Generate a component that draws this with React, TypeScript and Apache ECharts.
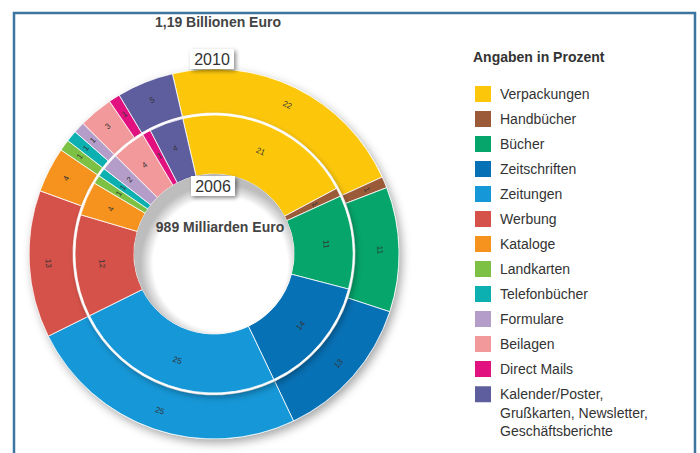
import React, { useEffect, useRef } from "react";
import * as echarts from "echarts";

const categories = [
  "Verpackungen",
  "Handbücher",
  "Bücher",
  "Zeitschriften",
  "Zeitungen",
  "Werbung",
  "Kataloge",
  "Landkarten",
  "Telefonbücher",
  "Formulare",
  "Beilagen",
  "Direct Mails",
  "Kalender/Poster,\nGrußkarten, Newsletter,\nGeschäftsberichte",
];
const values2010 = [22, 1, 11, 13, 25, 13, 4, 1, 1, 1, 3, 1, 5];
const values2006 = [21, 1, 11, 14, 25, 12, 4, 1, 1, 2, 4, 1, 4];
const colors = [
  "#FCC70B",
  "#9B5B38",
  "#05A56B",
  "#0771B5",
  "#1697D7",
  "#D5524A",
  "#F6931F",
  "#7CC143",
  "#0CB0B0",
  "#B49DC9",
  "#F29A9B",
  "#E1127F",
  "#5E5D9E",
];
const title2010 = "1,19 Billionen Euro";
const title2006 = "989 Milliarden Euro";
const legendTitle = "Angaben in Prozent";

const FONT = "'Liberation Sans', Arial, sans-serif";
const CX = 214;
const CY = 254;

export default function App() {
  const ref = useRef<HTMLDivElement>(null);
  useEffect(() => {
    if (!ref.current) return;
    const chart = echarts.init(ref.current, null, { renderer: "svg" });
    const mk = (vals: number[]) =>
      categories.map((name, i) => ({
        name,
        value: vals[i],
        itemStyle: { color: colors[i] },
      }));
    const labelCfg = {
      show: true,
      position: "inside",
      rotate: "tangential",
      fontSize: 8,
      color: "#333",
      fontFamily: FONT,
      formatter: "{c}",
    };
    const option: any = {
      animation: false,
      color: colors,
      textStyle: { fontFamily: FONT },
      legend: [
        {
          orient: "vertical",
          left: 468,
          top: 79,
          itemWidth: 18,
          itemHeight: 18,
          itemGap: 5,
          icon: "rect",
          selectedMode: false,
          data: categories.slice(0, 12),
          textStyle: {
            fontSize: 14,
            lineHeight: 18,
            color: "#333",
            fontFamily: FONT,
            padding: [0, 0, 0, 3],
          },
        },
        {
          orient: "vertical",
          left: 468,
          top: 343,
          itemWidth: 18,
          itemHeight: 18,
          icon: "rect",
          selectedMode: false,
          data: categories.slice(12),
          formatter: (name: string) => "\n\n" + name,
          textStyle: {
            fontSize: 14,
            color: "#333",
            fontFamily: FONT,
            lineHeight: 18.5,
            padding: [0, 0, 0, 3],
          },
        },
      ],
      series: [
        {
          type: "pie",
          name: "2010",
          center: [CX, CY],
          radius: [141, 185],
          startAngle: 103,
          z: 2,
          avoidLabelOverlap: false,
          emphasis: { disabled: true },
          itemStyle: { borderColor: "#fff", borderWidth: 0.8 },
          label: labelCfg,
          labelLine: { show: false },
          data: mk(values2010),
        },
        {
          type: "pie",
          name: "2006",
          center: [CX, CY],
          radius: [80, 139],
          startAngle: 103,
          z: 4,
          avoidLabelOverlap: false,
          emphasis: { disabled: true },
          itemStyle: { borderColor: "#fff", borderWidth: 0.8 },
          label: labelCfg,
          labelLine: { show: false },
          data: mk(values2006),
        },
      ],
      graphic: [
        {
          type: "rect",
          z: 0,
          silent: true,
          shape: { x: 14, y: 13, width: 681, height: 460 },
          style: { fill: "none", stroke: "#3B75A0", lineWidth: 2.5 },
        },
        {
          type: "circle",
          z: 1,
          silent: true,
          shape: { cx: CX, cy: CY, r: 185 },
          style: {
            fill: "#fff",
            shadowBlur: 10,
            shadowOffsetX: 3,
            shadowOffsetY: 4,
            shadowColor: "rgba(0,0,0,0.35)",
          },
        },
        {
          type: "circle",
          z: 3,
          silent: true,
          shape: { cx: CX, cy: CY, r: 140.5 },
          style: {
            fill: "#fff",
            shadowBlur: 6,
            shadowOffsetX: 2,
            shadowOffsetY: 3,
            shadowColor: "rgba(0,0,0,0.3)",
          },
        },
        {
          type: "circle",
          z: 5,
          silent: true,
          shape: { cx: CX, cy: CY, r: 80 },
          style: {
            fill: new echarts.graphic.RadialGradient(0.54, 0.56, 0.5, [
              { offset: 0, color: "#ffffff" },
              { offset: 0.84, color: "#ffffff" },
              { offset: 1, color: "#bdbdbd" },
            ]),
          },
        },
        {
          type: "rect",
          z: 6,
          silent: true,
          shape: { x: 190, y: 49, width: 44, height: 20 },
          style: {
            fill: "#fff",
            shadowBlur: 4,
            shadowOffsetX: 2,
            shadowOffsetY: 2,
            shadowColor: "rgba(0,0,0,0.45)",
          },
        },
        {
          type: "text",
          z: 7,
          silent: true,
          x: 212,
          y: 59,
          style: {
            text: "2010",
            fontSize: 16,
            fontFamily: FONT,
            fill: "#333",
            align: "center",
            verticalAlign: "middle",
          },
        },
        {
          type: "rect",
          z: 6,
          silent: true,
          shape: { x: 191, y: 176, width: 44, height: 20 },
          style: {
            fill: "#fff",
            shadowBlur: 4,
            shadowOffsetX: 2,
            shadowOffsetY: 2,
            shadowColor: "rgba(0,0,0,0.45)",
          },
        },
        {
          type: "text",
          z: 7,
          silent: true,
          x: 213,
          y: 186,
          style: {
            text: "2006",
            fontSize: 16,
            fontFamily: FONT,
            fill: "#333",
            align: "center",
            verticalAlign: "middle",
          },
        },
        {
          type: "text",
          z: 7,
          silent: true,
          x: 218,
          y: 22,
          style: {
            text: title2010,
            fontSize: 14,
            fontWeight: "bold",
            fontFamily: FONT,
            fill: "#444",
            align: "center",
            verticalAlign: "middle",
          },
        },
        {
          type: "text",
          z: 7,
          silent: true,
          x: 220,
          y: 227,
          style: {
            text: title2006,
            fontSize: 14,
            fontWeight: "bold",
            fontFamily: FONT,
            fill: "#444",
            align: "center",
            verticalAlign: "middle",
          },
        },
        {
          type: "text",
          z: 7,
          silent: true,
          x: 473,
          y: 57,
          style: {
            text: legendTitle,
            fontSize: 14,
            fontWeight: "bold",
            fontFamily: FONT,
            fill: "#333",
            align: "left",
            verticalAlign: "middle",
          },
        },
      ],
    };
    chart.setOption(option);
    return () => chart.dispose();
  }, []);
  return (
    <div
      ref={ref}
      style={{ position: "absolute", left: 0, top: 0, width: 700, height: 453, background: "#fff" }}
    />
  );
}
